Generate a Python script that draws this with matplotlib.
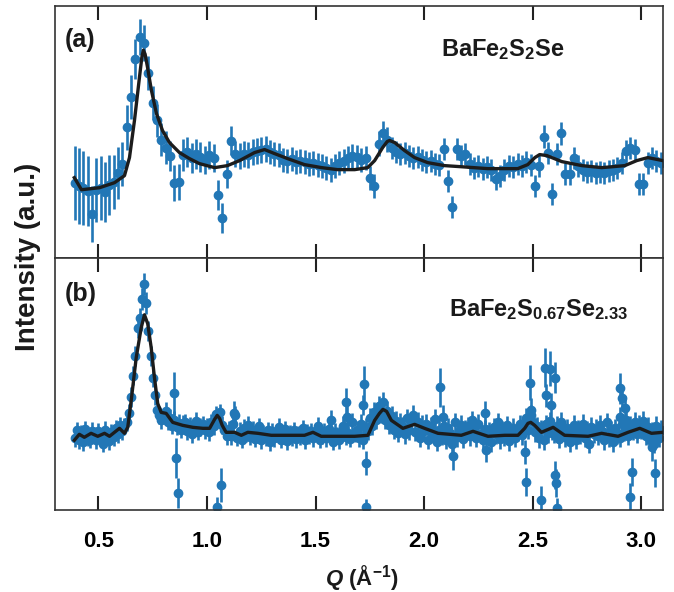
import matplotlib
matplotlib.use('Agg')
import matplotlib.pyplot as plt

plt.rcParams['font.family'] = 'Liberation Sans'
plt.rcParams['font.weight'] = 'bold'
plt.rcParams['mathtext.fontset'] = 'custom'
plt.rcParams['mathtext.rm'] = 'Liberation Sans:bold'
plt.rcParams['mathtext.bf'] = 'Liberation Sans:bold'
plt.rcParams['mathtext.it'] = 'Liberation Sans:italic:bold'

# ---- panel (a): BaFe2S2Se, intensity in arbitrary units ----
qa = [0.39, 0.41, 0.43, 0.45, 0.47, 0.49, 0.51, 0.53, 0.55, 0.57,
      0.59, 0.61, 0.63, 0.65, 0.67, 0.69, 0.71, 0.73, 0.75, 0.77,
      0.79, 0.81, 0.83, 0.85, 0.87, 0.89, 0.91, 0.93, 0.95, 0.97,
      0.99, 1.01, 1.03, 1.05, 1.07, 1.09, 1.11, 1.13, 1.15, 1.17,
      1.19, 1.21, 1.23, 1.25, 1.27, 1.29, 1.31, 1.33, 1.35, 1.37,
      1.39, 1.41, 1.43, 1.45, 1.47, 1.49, 1.51, 1.53, 1.55, 1.57,
      1.59, 1.61, 1.63, 1.65, 1.67, 1.69, 1.71, 1.73, 1.75, 1.77,
      1.79, 1.81, 1.83, 1.85, 1.87, 1.89, 1.91, 1.93, 1.95, 1.97,
      1.99, 2.01, 2.03, 2.05, 2.07, 2.09, 2.11, 2.13, 2.15, 2.17,
      2.19, 2.21, 2.23, 2.25, 2.27, 2.29, 2.31, 2.33, 2.35, 2.37,
      2.39, 2.41, 2.43, 2.45, 2.47, 2.49, 2.51, 2.53, 2.55, 2.57,
      2.59, 2.61, 2.63, 2.65, 2.67, 2.69, 2.71, 2.73, 2.75, 2.77,
      2.79, 2.81, 2.83, 2.85, 2.87, 2.89, 2.91, 2.93, 2.95, 2.97,
      2.99, 3.01, 3.03, 3.05, 3.07, 3.09]
ia = [75, 72, 70, 67, 44, 68, 70, 66, 73, 76,
      85, 94, 130, 160, 198, 220, 214, 184, 154, 137,
      118, 110, 102, 75, 76, 103, 106, 100, 104, 101,
      98, 103, 100, 63, 40, 84, 117, 104, 102, 104,
      103, 106, 107, 108, 109, 106, 104, 103, 98, 97,
      99, 96, 97, 96, 94, 95, 93, 92, 90, 88,
      92, 95, 97, 100, 102, 101, 98, 100, 80, 72,
      114, 124, 118, 110, 106, 104, 105, 102, 100, 101,
      98, 96, 97, 94, 93, 109, 77, 51, 109, 102,
      104, 94, 90, 92, 89, 91, 88, 79, 82, 88,
      92, 91, 94, 92, 96, 93, 72, 92, 121, 105,
      64, 104, 124, 84, 84, 100, 92, 88, 86, 87,
      85, 86, 85, 87, 88, 90, 95, 107, 110, 108,
      74, 74, 95, 100, 97, 95]
ea = [37, 38, 37, 35, 28, 32, 32, 30, 30, 27,
      26, 22, 22, 22, 20, 18, 18, 17, 17, 16,
      16, 16, 15, 18, 18, 16, 15, 15, 15, 15,
      14, 14, 14, 15, 15, 14, 14, 13, 13, 13,
      13, 13, 13, 13, 13, 12, 12, 12, 12, 12,
      12, 12, 12, 12, 12, 12, 12, 12, 12, 12,
      12, 12, 12, 12, 12, 12, 12, 12, 12, 12,
      12, 12, 12, 11, 11, 11, 11, 11, 11, 11,
      11, 11, 11, 11, 11, 11, 11, 11, 11, 11,
      11, 11, 11, 11, 11, 11, 11, 11, 11, 11,
      11, 11, 11, 11, 11, 11, 11, 11, 11, 11,
      11, 11, 11, 11, 11, 11, 11, 11, 11, 11,
      11, 11, 11, 11, 11, 11, 11, 11, 11, 11,
      11, 11, 11, 11, 11, 11]

qa_fit = [0.389, 0.422, 0.505, 0.574, 0.620, 0.643, 0.666, 0.689, 0.700, 0.707,
          0.715, 0.726, 0.744, 0.767, 0.795, 0.827, 0.873, 0.919, 0.965, 1.035,
          1.094, 1.150, 1.219, 1.265, 1.311, 1.371, 1.449, 1.528, 1.601, 1.680,
          1.740, 1.772, 1.809, 1.830, 1.841, 1.864, 1.910, 1.956, 2.016, 2.094,
          2.164, 2.293, 2.431, 2.477, 2.510, 2.532, 2.565, 2.634, 2.726, 2.818,
          2.924, 2.979, 3.030, 3.099]
ia_fit = [80, 68, 70, 75, 82, 100, 137, 180, 200, 207,
          203, 190, 167, 144, 127, 115, 105, 99, 94, 90,
          92, 97, 105, 108, 104, 99, 93, 90, 88, 88,
          90, 97, 110, 116, 117, 115, 107, 100, 95, 92,
          91, 89, 89, 93, 100, 103, 102, 96, 92, 90,
          92, 97, 100, 97]

# ---- panel (b): BaFe2S0.67Se2.33 ----
qb = [0.39, 0.40, 0.41, 0.42, 0.43, 0.44, 0.45, 0.46, 0.47, 0.48,
      0.49, 0.50, 0.51, 0.52, 0.53, 0.54, 0.55, 0.56, 0.57, 0.58,
      0.59, 0.60, 0.61, 0.62,
      0.63, 0.64, 0.65, 0.66, 0.67, 0.68, 0.69, 0.70, 0.71, 0.72,
      0.73, 0.74, 0.75, 0.76, 0.77, 0.78, 0.79,
      0.80, 0.81, 0.82, 0.83, 0.84, 0.85, 0.86, 0.87, 0.88, 0.89,
      0.90, 0.91, 0.92, 0.93, 0.94, 0.95, 0.96, 0.97, 0.98, 0.99,
      1.00, 1.01, 1.02, 1.03, 1.04, 1.05, 1.06, 1.07, 1.08, 1.09,
      1.10, 1.11, 1.12, 1.13, 1.14, 1.15, 1.16, 1.17, 1.18, 1.19,
      1.20, 1.21, 1.22, 1.23, 1.24, 1.25, 1.26, 1.27, 1.28, 1.29,
      1.30, 1.31, 1.32, 1.33, 1.34, 1.35, 1.36, 1.37, 1.38, 1.39,
      1.40, 1.41, 1.42, 1.43, 1.44, 1.45, 1.46, 1.47, 1.48, 1.49,
      1.50, 1.51, 1.52, 1.53, 1.54, 1.55, 1.56, 1.57, 1.58, 1.59,
      1.60, 1.61, 1.62, 1.63, 1.64, 1.65, 1.66, 1.67, 1.68, 1.69,
      1.70, 1.71, 1.72, 1.73, 1.74, 1.75, 1.76, 1.77, 1.78, 1.79,
      1.80, 1.81, 1.82, 1.83, 1.84, 1.85, 1.86, 1.87, 1.88, 1.89,
      1.90, 1.91, 1.92, 1.93, 1.94, 1.95, 1.96, 1.97, 1.98, 1.99,
      2.00, 2.01, 2.02, 2.03, 2.04, 2.05, 2.06, 2.07, 2.08, 2.09,
      2.10, 2.11, 2.12, 2.13, 2.14, 2.15, 2.16, 2.17, 2.18, 2.19,
      2.20, 2.21, 2.22, 2.23, 2.24, 2.25, 2.26, 2.27, 2.28, 2.29,
      2.30, 2.31, 2.32, 2.33, 2.34, 2.35, 2.36, 2.37, 2.38, 2.39,
      2.40, 2.41, 2.42, 2.43, 2.44, 2.45, 2.46, 2.47, 2.48, 2.49,
      2.50, 2.51, 2.52, 2.53, 2.54, 2.55, 2.56, 2.57, 2.58, 2.59,
      2.60, 2.61, 2.62, 2.63, 2.64, 2.65, 2.66, 2.67, 2.68, 2.69,
      2.70, 2.71, 2.72, 2.73, 2.74, 2.75, 2.76, 2.77, 2.78, 2.79,
      2.80, 2.81, 2.82, 2.83, 2.84, 2.85, 2.86, 2.87, 2.88, 2.89,
      2.90, 2.91, 2.92, 2.93, 2.94, 2.95, 2.96, 2.97, 2.98, 2.99,
      3.00, 3.01, 3.02, 3.03, 3.04, 3.05, 3.06, 3.07, 3.08, 3.09]
ib = [72, 80, 70, 77, 68, 81, 73, 70, 79, 75,
      70, 79, 72, 66, 80, 74, 69, 78, 73, 82,
      76, 85, 79, 84,
      88, 97, 113, 135, 155, 183, 193, 212, 227, 208,
      180, 155, 133, 115, 100, 95, 90,
      94, 99, 88, 92, 84, 90, 83, 87, 80, 86,
      88, 79, 85, 76, 84, 89, 78, 83, 86, 80,
      84, 78, 88, 84, 96, 92, 98, 85, 80, 74,
      81, 74, 86, 95, 72, 79, 70, 82, 76, 85,
      73, 80, 71, 78, 84, 70, 77, 73, 80, 68,
      79, 72, 76, 83, 70, 75, 81, 69, 77, 73,
      80, 71, 76, 74, 82, 70, 78, 75, 79, 72,
      77, 84, 70, 75, 79, 72, 81, 74, 68, 78,
      75, 70, 79, 82, 73, 77, 71, 88, 76, 80,
      72, 86, 70, 82, 79, 92, 84, 98, 90, 104,
      96, 108, 90, 99, 85, 94, 80, 89, 77, 87,
      84, 76, 92, 80, 89, 95, 78, 88, 72, 85,
      79, 86, 70, 83, 76, 91, 68, 80, 74, 84,
      70, 82, 77, 66, 88, 73, 79, 85, 71, 80,
      84, 74, 90, 80, 72, 86, 76, 70, 81, 75,
      79, 68, 83, 76, 88, 71, 80, 74, 85, 69,
      77, 82, 72, 79, 86, 75, 84, 92, 80, 95,
      88, 78, 84, 72, 81, 70, 86, 77, 89, 80,
      76, 84, 71, 88, 79, 73, 82, 68, 77, 85,
      70, 80, 75, 86, 72, 79, 66, 83, 76, 81,
      74, 85, 79, 70, 88, 73, 80, 68, 82, 76,
      72, 86, 78, 90, 74, 84, 79, 88, 76, 85,
      80, 89, 74, 83, 70, 78, 66, 84, 72, 80]
eb = [9, 8, 9, 8, 9, 8, 9, 8, 9, 8,
      9, 8, 9, 8, 9, 8, 9, 8, 9, 8,
      9, 8, 9, 8,
      9, 9, 10, 10, 10, 10, 10, 11, 11, 11,
      10, 10, 10, 10, 9, 9, 9,
      8, 9, 8, 9, 8, 9, 8, 9, 8, 9,
      8, 9, 8, 9, 8, 9, 8, 9, 8, 9,
      8, 9, 8, 9, 8, 9, 8, 9, 8, 9,
      8, 9, 8, 9, 8, 9, 8, 9, 8, 9,
      8, 9, 8, 9, 8, 9, 8, 9, 8, 9,
      8, 9, 8, 9, 8, 9, 8, 9, 8, 9,
      8, 9, 8, 9, 8, 9, 8, 9, 8, 9,
      8, 9, 8, 9, 8, 9, 8, 9, 8, 9,
      8, 9, 8, 9, 8, 9, 8, 9, 8, 9,
      9, 10, 9, 10, 9, 10, 9, 10, 9, 10,
      9, 10, 9, 10, 9, 10, 9, 10, 9, 10,
      9, 10, 9, 10, 9, 10, 9, 10, 9, 10,
      9, 10, 9, 10, 9, 10, 9, 10, 9, 10,
      9, 10, 9, 10, 9, 10, 9, 10, 9, 10,
      9, 10, 9, 10, 9, 10, 9, 10, 9, 10,
      9, 10, 9, 10, 9, 10, 9, 10, 9, 10,
      9, 10, 9, 10, 9, 10, 9, 10, 9, 10,
      9, 10, 9, 10, 9, 10, 9, 10, 9, 10,
      9, 10, 9, 10, 9, 10, 9, 10, 9, 10,
      9, 10, 9, 10, 9, 10, 9, 10, 9, 10,
      9, 10, 9, 10, 9, 10, 9, 10, 9, 10,
      9, 10, 9, 10, 9, 10, 9, 10, 9, 10,
      9, 10, 9, 10, 9, 10, 9, 10, 9, 10]

# isolated points that sit far off the band in (b)
qb_out = [0.850, 0.858, 0.865, 1.047, 1.063, 1.123, 1.569, 1.626, 1.641, 1.645,
          1.722, 1.718, 1.734, 1.730, 2.071, 2.087, 2.133, 2.279, 2.287, 2.463,
          2.471, 2.486, 2.494, 2.540, 2.555, 2.563, 2.578, 2.586, 2.601, 2.601,
          2.609, 2.612, 2.901, 2.909, 2.924, 2.901, 2.955, 2.947, 3.047, 3.062]
ib_out = [117, 52, 17, 3, 25, 97, 90, 84, 108, 93,
          127, 105, 47, 3, 123, 93, 54, 97, 60, 58,
          28, 128, 100, 10, 143, 115, 142, 105, 133, 35,
          27, 2, 122, 112, 102, 93, 38, 13, 63, 37]
eb_out = [22, 20, 15, 10, 17, 12, 10, 10, 14, 12,
          18, 10, 12, 8, 20, 12, 14, 12, 12, 12,
          14, 18, 12, 14, 20, 12, 18, 12, 16, 14,
          14, 10, 16, 12, 12, 10, 14, 14, 14, 14]

qb_fit = [0.389, 0.412, 0.435, 0.466, 0.497, 0.528, 0.551, 0.574, 0.597, 0.620,
          0.635, 0.651, 0.674, 0.697, 0.712, 0.727, 0.743, 0.758, 0.773, 0.789,
          0.812, 0.842, 0.888, 0.935, 0.981, 1.012, 1.035, 1.047, 1.058, 1.070,
          1.088, 1.127, 1.158, 1.188, 1.234, 1.296, 1.372, 1.449, 1.488, 1.526,
          1.603, 1.680, 1.741, 1.772, 1.794, 1.810, 1.827, 1.849, 1.902, 1.956,
          2.002, 2.064, 2.171, 2.225, 2.294, 2.371, 2.432, 2.463, 2.478, 2.491,
          2.509, 2.540, 2.594, 2.647, 2.755, 2.817, 2.893, 2.939, 2.993, 3.047,
          3.099]
ib_fit = [70, 76, 73, 77, 74, 77, 74, 78, 82, 77,
          83, 110, 153, 183, 196, 187, 163, 133, 107, 98,
          97, 88, 85, 83, 82, 82, 91, 95, 92, 85,
          78, 78, 75, 78, 77, 75, 75, 75, 78, 74,
          74, 74, 75, 90, 97, 101, 99, 90, 82, 86,
          82, 77, 75, 79, 74, 75, 75, 82, 87, 88,
          85, 78, 83, 75, 74, 77, 74, 78, 82, 77,
          78]

xticks = [0.5, 1.0, 1.5, 2.0, 2.5, 3.0]
blue = '#2277b6'
fitcol = '#1c1c1c'

fig, (ax1, ax2) = plt.subplots(2, 1, sharex=True, figsize=(6.74, 5.92), dpi=100)
fig.subplots_adjust(left=0.0816, right=0.9837, bottom=0.1385, top=0.9899, hspace=0)

def draw_points(ax, q, y, e):
    ax.errorbar(q, y, yerr=e, fmt='o', color=blue, ms=6, mec=blue,
                elinewidth=1.9, capsize=0, zorder=2)

draw_points(ax1, qa, ia, ea)
ax1.plot(qa_fit, ia_fit, color=fitcol, lw=2.4, zorder=3, solid_joinstyle='round')

draw_points(ax2, qb, ib, eb)
draw_points(ax2, qb_out, ib_out, eb_out)
ax2.plot(qb_fit, ib_fit, color=fitcol, lw=2.4, zorder=3, solid_joinstyle='round')

ax1.set_ylim(0, 251)
ax2.set_ylim(0, 253)
ax2.set_xlim(0.3, 3.1)
ax2.set_xticks(xticks)

for ax in (ax1, ax2):
    ax.set_yticks([])
    ax.tick_params(axis='x', direction='in', top=True, bottom=True,
                   length=10, width=1.5, color='#222222', labelsize=16, pad=15)
    for sp in ax.spines.values():
        sp.set_color('#333333')
        sp.set_linewidth(1.2)
ax1.tick_params(axis='x', labelbottom=False)

ax1.text(0.016, 0.865, '(a)', transform=ax1.transAxes, fontsize=18,
         fontweight='bold', ha='left', va='center', color='#1a1a1a')
ax2.text(0.016, 0.858, '(b)', transform=ax2.transAxes, fontsize=18,
         fontweight='bold', ha='left', va='center', color='#1a1a1a')
ax1.text(0.635, 0.80, r'BaFe$_2$S$_2$Se', transform=ax1.transAxes,
         fontsize=17, ha='left', va='baseline', color='#1a1a1a')
ax2.text(0.648, 0.771, r'BaFe$_2$S$_{0.67}$Se$_{2.33}$', transform=ax2.transAxes,
         fontsize=17, ha='left', va='baseline', color='#1a1a1a')

fig.text(0.042, 0.566, 'Intensity (a.u.)', rotation=90, fontsize=20,
         ha='center', va='center', color='#1a1a1a')
fig.text(0.537, 0.024, r'$Q$ (Å$^{-1}$)', fontsize=16,
         ha='center', va='center', color='#1a1a1a')

fig.savefig('out.png', dpi=100)
